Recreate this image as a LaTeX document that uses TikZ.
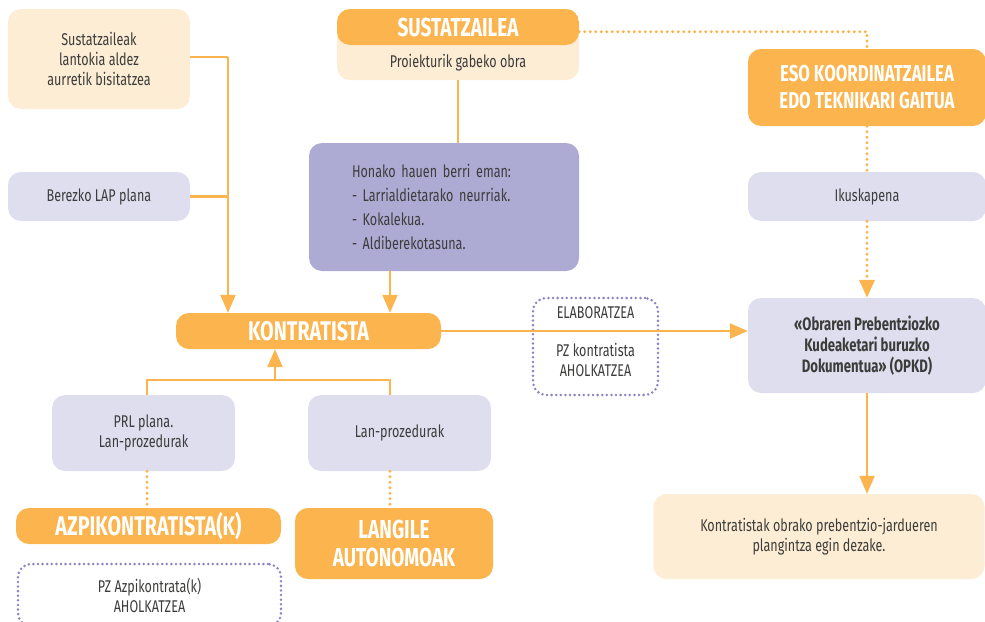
\documentclass[tikz,border=0pt]{standalone}
\usepackage{fontspec}
\setmainfont[FakeStretch=0.74]{Fira Sans}
\newfontfamily\headfont[FakeStretch=0.73]{Fira Sans}
\usepackage{tikz}
\usetikzlibrary{shapes,arrows.meta,positioning}
\definecolor{orangefill}{HTML}{FBB44E}
\definecolor{creamfill}{HTML}{FDEDD5}
\definecolor{lilacfill}{HTML}{DFDEEF}
\definecolor{purplefill}{HTML}{ADAAD4}
\definecolor{dotpurple}{HTML}{8C82C4}
\definecolor{textgrey}{HTML}{3C3C3B}
\tikzstyle{block} = [rectangle, rounded corners = 13pt, text = textgrey, align = center, inner sep = 0pt, font = \fontsize{17}{20}\selectfont]
\tikzstyle{paleblock} = [block, fill = lilacfill]
\tikzstyle{creamblock} = [block, fill = creamfill]
\tikzstyle{purpleblock} = [block, fill = purplefill, align = left, text width = 184pt, inner xsep = 43pt, font = \fontsize{17}{24}\selectfont]
\tikzstyle{titleblock} = [block, fill = orangefill, text = white, font = \headfont\fontsize{27}{28}\selectfont\bfseries]
\tikzstyle{headtext} = [text = white, font = \headfont\fontsize{26}{28}\selectfont\bfseries, align = center]
\tikzstyle{adviceblock} = [block, draw = dotpurple, line width = 2.8pt, dash pattern = on 0pt off 4.6pt, line cap = round]
\tikzstyle{line} = [draw = orangefill, line width = 2.2pt]
\tikzstyle{dotline} = [line, line width = 3.2pt, dash pattern = on 0pt off 5.5pt, line cap = round]
\tikzstyle{arrow} = [line, -{Triangle[length = 18pt, width = 15pt]}]
\tikzstyle{dotarrow} = [dotline, -{Triangle[length = 18pt, width = 15pt]}]

\begin{document}
\begin{tikzpicture}[x = 1pt, y = -1pt]
\tikzstyle{every node}=[font=\fontsize{17}{20}\selectfont];
\path[use as bounding box, clip] (0,0) rectangle (985,621);
% left column
\node [creamblock, minimum width = 182pt, minimum height = 100pt] (visit) at (99,59) {Sustatzaileak\\lantokia aldez\\aurretik bisitatzea};
\node [paleblock, below of = visit, node distance = 137.5pt, minimum width = 182pt, minimum height = 49pt] (lap) {Berezko LAP plana};
% promoter
\node [creamblock, minimum width = 242pt, minimum height = 71pt, path picture = {\fill[orangefill] (path picture bounding box.north west) rectangle ([yshift = -36pt]path picture bounding box.north east);}] (sust) at (458,44.5) {};
\node [headtext] (susttitle) at (458,27) {SUSTATZAILEA};
\node [text = textgrey] (sustsub) at (458,63) {Proiekturik gabeko obra};
\node [purpleblock, minimum height = 128pt] (inform) at (444,207) {Honako hauen berri eman:\\- Larrialdietarako neurriak.\\- Kokalekua.\\- Aldiberekotasuna.};
\node [titleblock, minimum width = 265pt, minimum height = 36pt] (kontra) at (308.5,331) {KONTRATISTA};
% right column
\node [titleblock, minimum width = 238pt, minimum height = 77pt, font = \headfont\fontsize{23}{27}\selectfont\bfseries] (eso) at (867,87.5) {ESO KOORDINATZAILEA\\EDO TEKNIKARI GAITUA};
\node [paleblock, below of = eso, node distance = 109pt, minimum width = 238pt, minimum height = 49pt] (iksk) {Ikuskapena};
\node [paleblock, minimum width = 238pt, minimum height = 95pt, font = \headfont\fontsize{18}{21}\selectfont\bfseries] (opkd) at (867,345.5) {«Obraren Prebentziozko\\Kudeaketari buruzko\\Dokumentua» (OPKD)};
\node [creamblock, minimum width = 331pt, minimum height = 85pt] (result) at (819,536.5) {Kontratistak obrako prebentzio-jardueren\\plangintza egin dezake.};
\node [adviceblock, minimum width = 125pt, minimum height = 97pt] (advice) at (595.5,346.5) {};
\node [text = textgrey] (elab) at (595.5,313) {ELABORATZEA};
\node [text = textgrey, align = center] (pzk) at (595.5,360) {PZ kontratista\\AHOLKATZEA};
% bottom row
\node [paleblock, minimum width = 183pt, minimum height = 76pt] (prl) at (143.5,433) {PRL plana.\\Lan-prozedurak};
\node [paleblock, minimum width = 183pt, minimum height = 76pt] (lanp) at (399.5,433) {Lan-prozedurak};
\node [titleblock, minimum width = 265pt, minimum height = 36pt] (azpi) at (148.5,526) {AZPIKONTRATISTA(K)};
\node [titleblock, minimum width = 198pt, minimum height = 71pt, font = \headfont\fontsize{26}{28}\selectfont\bfseries] (langile) at (394,543.5) {LANGILE\\AUTONOMOAK};
\node [adviceblock, minimum width = 263pt, minimum height = 62pt] (azpiadv) at (149.5,595) {};
\node [text = textgrey, align = center] (pza) at (149.5,595) {PZ Azpikontrata(k)\\AHOLKATZEA};
% connectors
\coordinate (leftbus) at (228,57);
\coordinate (lowbus) at (275,380);
\draw [line] (visit.east |- leftbus) -- (leftbus);
\draw [line] (lap.east) -- (lap.east -| leftbus);
\draw [arrow] (leftbus) -- (leftbus |- kontra.north);
\draw [line] (sust.south) -- (sust.south |- inform.north);
\draw [arrow] ([xshift = -54pt]inform.south) -- ([xshift = -54pt]inform.south |- kontra.north);
\draw [dotline] ([yshift = -23pt]sust.north east) -| (eso.north);
\draw [dotline] (eso.south) -- (iksk.north);
\draw [dotarrow] (iksk.south) -- (opkd.north);
\draw [arrow] (kontra.east) -- (kontra.east -| opkd.west);
\draw [arrow] (opkd.south) -- (opkd.south |- result.north);
\draw [line] ([xshift = 3.5pt]prl.north) |- ([xshift = -9.5pt]lanp.north |- lowbus) -- ([xshift = -9.5pt]lanp.north);
\draw [arrow] (lowbus) -- (lowbus |- kontra.south);
\draw [dotline] ([xshift = 3.5pt]prl.south) -- ([xshift = 3.5pt]prl.south |- azpi.north);
\draw [dotline] ([xshift = -9.5pt]lanp.south) -- ([xshift = -9.5pt]lanp.south |- langile.north);
\end{tikzpicture}
\end{document}
